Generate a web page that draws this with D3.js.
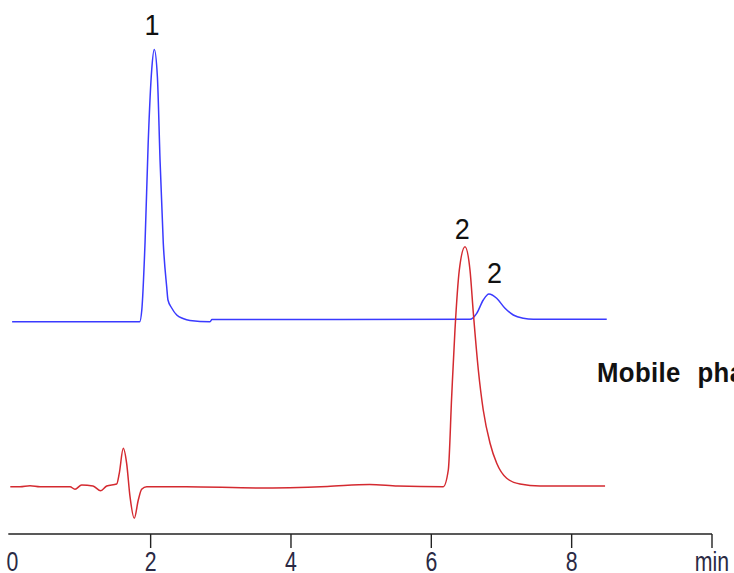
<!DOCTYPE html>
<html>
<head>
<meta charset="utf-8">
<script src="https://cdn.jsdelivr.net/npm/d3@7"></script>
<style>
  body { margin: 0; background: #fff; overflow: hidden; }
  svg { display: block; }
</style>
</head>
<body>
<div class="vis1"></div>
<script>
// chromatogram, two runs stacked (signal in arbitrary units)

const FRAME_WIDTH = 734;
const FRAME_HEIGHT = 573;

// x ticks (minutes), last one is labelled "min"
const xTicks = [2, 4, 6, 8, 10];
const xTickLabels = ["0", "2", "4", "6", "8", "min"];

// blue trace [time, signal]
const blueTrace = [
  [0.026, 42.46], [1.844, 42.46], [1.874, 44.8], [1.92, 58.2], [1.965, 78.2],
  [2.015, 92.8], [2.052, 96.9], [2.096, 91.5], [2.134, 74.8], [2.18, 58.2],
  [2.229, 49.4], [2.247, 46.8], [2.3, 45.2], [2.372, 43.8], [2.461, 43.1],
  [2.56, 42.7], [2.846, 42.46], [2.874, 42.9], [6.551, 42.94], [6.647, 44.14],
  [6.74, 46.8], [6.821, 48.0], [6.931, 47.14], [7.05, 45.14], [7.168, 43.8],
  [7.311, 43.14], [7.453, 42.94], [8.5, 42.94]
];

// red trace [time, signal]
const redTrace = [
  [0.0, 9.46], [0.138, 9.46], [0.281, 9.66], [0.424, 9.46], [0.851, 9.46],
  [0.922, 8.94], [1.017, 9.8], [1.178, 9.6], [1.289, 8.66], [1.374, 9.6],
  [1.516, 10.0], [1.553, 12.14], [1.61, 17.14], [1.658, 14.14], [1.706, 7.46],
  [1.767, 3.14], [1.824, 6.8], [1.872, 8.94], [1.944, 9.46], [2.507, 9.46],
  [3.512, 9.2], [4.517, 9.5], [5.12, 9.9], [5.522, 9.6], [6.17, 9.46],
  [6.242, 12.8], [6.29, 27.46], [6.337, 40.8], [6.399, 52.8], [6.48, 57.46],
  [6.551, 52.8], [6.599, 44.14], [6.67, 32.8], [6.74, 24.8], [6.837, 18.14],
  [6.932, 14.14], [7.074, 11.14], [7.264, 10.0], [7.549, 9.6], [8.476, 9.6]
];

// peak labels [text, time, signal at label baseline]
const peakLabels = [
  ["1", 2.02, 99.8],
  ["2", 6.44, 59.1],
  ["2", 6.90, 50.2]
];

const FRAME = d3.select('.vis1')
  .append('svg')
    .attr('width', FRAME_WIDTH)
    .attr('height', FRAME_HEIGHT);

const X_SCALE = d3.scaleLinear().domain([0, 10]).range([10.3, 712]);
const Y_SCALE = d3.scaleLinear().domain([0, 100]).range([534, 34]);

// axis line + ticks
FRAME.append('line')
  .attr('x1', 8.3).attr('x2', X_SCALE(10))
  .attr('y1', Y_SCALE(0)).attr('y2', Y_SCALE(0))
  .attr('stroke', '#222').attr('stroke-width', 1.6);

FRAME.selectAll('.tick')
  .data(xTicks)
  .enter().append('line')
    .attr('class', 'tick')
    .attr('x1', (d) => X_SCALE(d)).attr('x2', (d) => X_SCALE(d))
    .attr('y1', Y_SCALE(0)).attr('y2', Y_SCALE(0) + 14)
    .attr('stroke', '#222').attr('stroke-width', 1.4);

// tall, narrow tick labels
FRAME.selectAll('.tlabel')
  .data(xTickLabels)
  .enter().append('text')
    .attr('class', 'tlabel')
    .attr('transform', (d, i) => 'translate(' + (X_SCALE(i * 2) + (i == 0 ? 2 : 0)) + ',571) scale(0.76,1)')
    .attr('text-anchor', 'middle')
    .attr('font-family', 'Liberation Sans, Arial, sans-serif')
    .attr('font-size', '28px')
    .attr('fill', '#2a2a44')
    .text((d) => d);

const line = d3.line()
  .x((d) => X_SCALE(d[0]))
  .y((d) => Y_SCALE(d[1]))
  .curve(d3.curveMonotoneX);

FRAME.append('path')
  .datum(blueTrace)
  .attr('d', line)
  .attr('fill', 'none')
  .attr('stroke', '#3a3aff')
  .attr('stroke-width', 1.5);

FRAME.append('path')
  .datum(redTrace)
  .attr('d', line)
  .attr('fill', 'none')
  .attr('stroke', '#d42a30')
  .attr('stroke-width', 1.5);

FRAME.selectAll('.plabel')
  .data(peakLabels)
  .enter().append('text')
    .attr('class', 'plabel')
    .attr('transform', (d) => 'translate(' + X_SCALE(d[1]) + ',' + Y_SCALE(d[2]) + ') scale(0.9,1)')
    .attr('text-anchor', 'middle')
    .attr('font-family', 'Liberation Sans, Arial, sans-serif')
    .attr('font-size', '30px')
    .attr('fill', '#111')
    .text((d) => d[0]);

// legend text, runs off the right edge as in the original
FRAME.append('text')
  .attr('transform', 'translate(597,382) scale(0.92,1)')
  .attr('font-family', 'Liberation Sans, Arial, sans-serif')
  .attr('font-size', '28px')
  .attr('font-weight', 'bold')
  .attr('letter-spacing', '0.4px')
  .attr('word-spacing', '10px')
  .attr('fill', '#111')
  .text('Mobile phase');
</script>
</body>
</html>
